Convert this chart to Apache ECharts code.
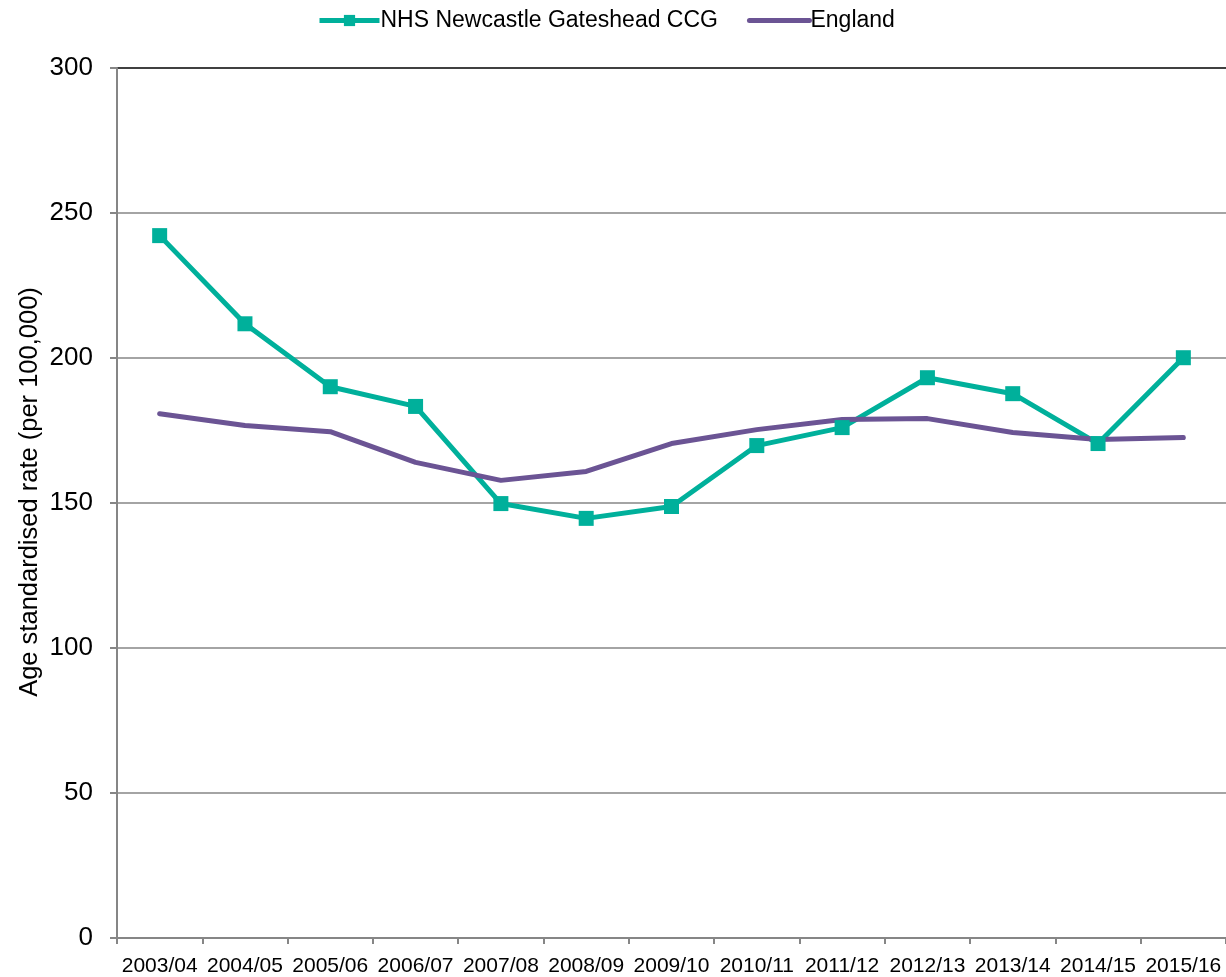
<!DOCTYPE html>
<html>
<head>
<meta charset="utf-8">
<script src="https://cdn.jsdelivr.net/npm/echarts@6/dist/echarts.min.js"></script>
<style>
  html, body { margin: 0; padding: 0; background: #fff; }
  #chart { width: 1226px; height: 977px; }
</style>
</head>
<body>
<div id="chart"></div>
<script>
// Financial years shown along the x axis
const years = ['2003/04','2004/05','2005/06','2006/07','2007/08','2008/09','2009/10',
               '2010/11','2011/12','2012/13','2013/14','2014/15','2015/16'];
// Age standardised rate per 100,000
const ccgRates = [242.2, 211.8, 190.1, 183.3, 149.8, 144.7, 148.8, 169.8, 176.0, 193.2, 187.7, 170.5, 200.1];
const englandRates = [180.8, 176.7, 174.6, 164.0, 157.8, 160.9, 170.5, 175.3, 178.8, 179.1, 174.3, 171.9, 172.6];
const seriesNames = ['NHS Newcastle Gateshead CCG', 'England'];

const font = 'Liberation Sans, Arial, sans-serif';
const teal = '#00B09B';
const purple = '#6B5494';
const chart = echarts.init(document.getElementById('chart'), null, { renderer: 'canvas' });

chart.setOption({
  animation: false,
  textStyle: { fontFamily: font },
  legend: {
    top: 4,
    left: 312,
    itemWidth: 60,
    itemHeight: 14,
    itemGap: 29,
    textStyle: { fontSize: 23, color: '#000', fontFamily: font, padding: [0, 0, 0, -4] },
    data: [
      { name: seriesNames[0], lineStyle: { color: teal, width: 5 } },
      { name: seriesNames[1], lineStyle: { color: purple, width: 5 }, itemStyle: { opacity: 0 } }
    ]
  },
  grid: { left: 117, right: 0, top: 68, bottom: 38, containLabel: false },
  xAxis: {
    type: 'category',
    data: years,
    boundaryGap: true,
    axisLine: { lineStyle: { color: '#868686', width: 2 } },
    axisTick: { show: true, alignWithLabel: false, length: 6, lineStyle: { color: '#868686', width: 2 } },
    axisLabel: { color: '#000', fontSize: 21, margin: 18, interval: 0, fontFamily: font }
  },
  yAxis: {
    type: 'value',
    min: 0,
    max: 300,
    interval: 50,
    name: 'Age standardised rate (per 100,000)',
    nameLocation: 'middle',
    nameGap: 74,
    nameMoveOverlap: false,
    nameRotate: 90,
    nameTextStyle: { fontSize: 25.5, color: '#000', fontFamily: font, padding: [0, 0, 0, 22] },
    axisLine: { show: true, lineStyle: { color: '#868686', width: 2 } },
    axisTick: { show: true, length: 7, lineStyle: { color: '#868686', width: 2 } },
    axisLabel: { color: '#000', fontSize: 26, margin: 24, fontFamily: font },
    splitLine: {
      show: true,
      lineStyle: {
        color: ['#868686', '#868686', '#868686', '#868686', '#868686', '#868686', '#000'],
        width: 1.5
      }
    }
  },
  series: [
    {
      name: seriesNames[0],
      type: 'line',
      data: ccgRates,
      symbol: 'rect',
      symbolSize: 15,
      showAllSymbol: true,
      lineStyle: { color: teal, width: 5 },
      itemStyle: { color: teal }
    },
    {
      name: seriesNames[1],
      type: 'line',
      data: englandRates,
      symbol: 'none',
      lineStyle: { color: purple, width: 5, cap: 'round' },
      itemStyle: { color: purple }
    }
  ]
});
</script>
</body>
</html>
